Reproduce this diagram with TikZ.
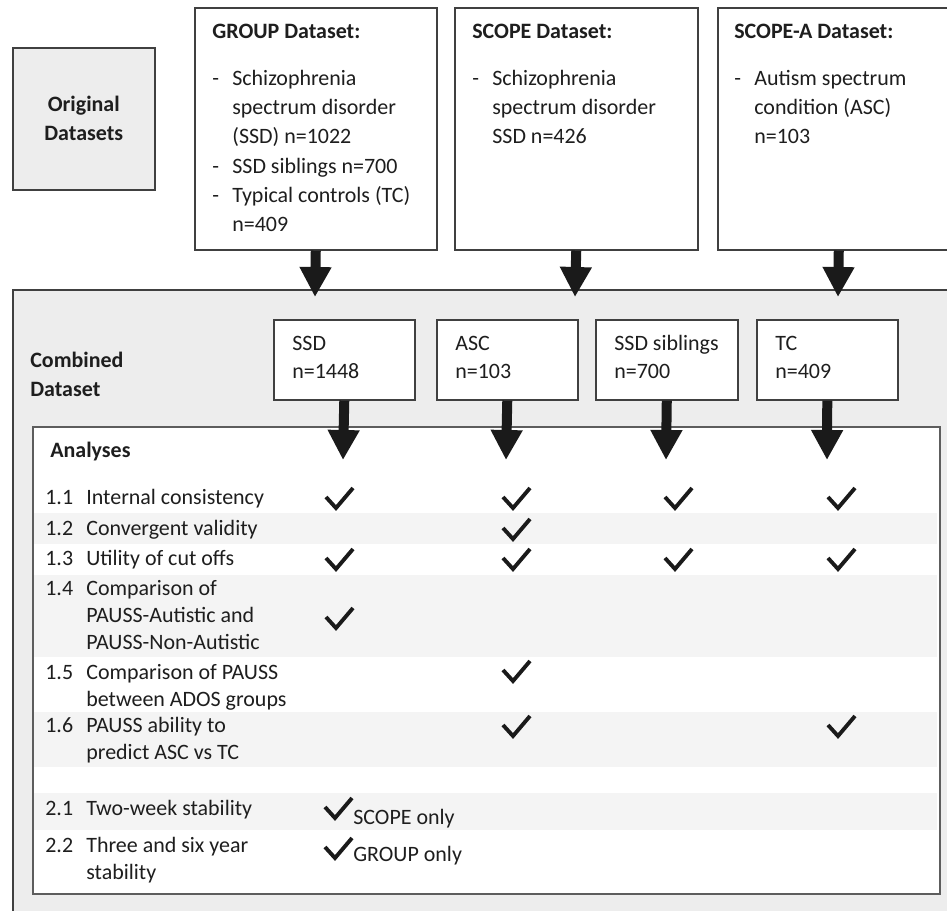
\documentclass[tikz,border=0pt]{standalone}
\usepackage{fontspec}
\setmainfont{Carlito}
\usetikzlibrary{arrows.meta}
\definecolor{flowBorder}{HTML}{404040}
\definecolor{flowPanel}{HTML}{EDEDED}
\definecolor{flowStripe}{HTML}{F4F4F4}
\definecolor{flowArrow}{HTML}{1A1A1A}
\definecolor{flowText}{HTML}{1E1E1E}
\newcommand{\lstdash}{\makebox[0.4cm][l]{-}}
\newcommand{\lstgap}{\hspace*{0.4cm}}
\newcommand{\stackl}[1]{\begin{tabular}[t]{@{}l@{}}#1\end{tabular}}

\begin{document}
\begin{tikzpicture}[
  x=0.02cm, y=-0.02cm,
  font={\fontsize{12.5}{16.7}\selectfont},
  text=flowText,
  panel/.style={
    rectangle,
    draw=flowBorder,
    fill=flowPanel,
    line width=0.9pt,
    anchor=north west,
    inner sep=0pt
  },
  dsbox/.style={
    rectangle,
    draw=flowBorder,
    fill=white,
    line width=0.9pt,
    anchor=north west,
    inner sep=0pt
  },
  lbl/.style={anchor=base west, inner sep=0pt},
  hdr/.style={lbl, font={\bfseries\fontsize{12.5}{17}\selectfont}},
  grp/.style={lbl, font={\fontsize{12.5}{16.5}\selectfont}},
  rowtxt/.style={lbl, font={\fontsize{12.5}{15.6}\selectfont}},
  blockArr/.style={-{Triangle[length=0.6cm, width=0.6cm]}, flowArrow, line width=0.2cm},
  chk/.pic={\draw[flowArrow, line width=2.2pt] (-10,-11) -- (0,0) -- (17,-20);}
]
  \useasboundingbox (0,0) rectangle (947,910);

  % original datasets
  \node[panel, minimum width=2.84cm, minimum height=2.84cm] (O) at (12,47) {};
  \node[align=center, font={\bfseries\fontsize{12.5}{16.5}\selectfont}] (Ot) at (O.center) {Original\\Datasets};

  \node[dsbox, minimum width=4.84cm, minimum height=4.84cm] (G) at (194,7) {};
  \node[hdr] (Gh) at (212,38) {GROUP Dataset:};
  \node[lbl] (Gl) at (212,85) {\stackl{\lstdash Schizophrenia\\\lstgap spectrum disorder\\\lstgap (SSD) n=1022\\\lstdash SSD siblings n=700\\\lstdash Typical controls (TC)\\\lstgap n=409}};

  \node[dsbox, minimum width=4.86cm, minimum height=4.84cm] (S) at (454,7) {};
  \node[hdr] (Sh) at (472,38) {SCOPE Dataset:};
  \node[lbl] (Sl) at (472,85) {\stackl{\lstdash Schizophrenia\\\lstgap spectrum disorder\\\lstgap SSD n=426}};

  \node[dsbox, minimum width=4.84cm, minimum height=4.84cm] (SA) at (717,7) {};
  \node[hdr] (SAh) at (734,38) {SCOPE-A Dataset:};
  \node[lbl] (SAl) at (734,85) {\stackl{\lstdash Autism spectrum\\\lstgap condition (ASC)\\\lstgap n=103}};

  % combined dataset
  \node[panel, minimum width=19.6cm, minimum height=13.2cm] (C) at (12,289) {};
  \node[hdr] (Ct) at (30,367) {\stackl{Combined\\Dataset}};

  \node[dsbox, minimum width=2.82cm, minimum height=1.6cm] (C1) at (273,319) {};
  \node[grp] (C1t) at (292,350) {\stackl{SSD\\n=1448}};
  \node[dsbox, minimum width=2.82cm, minimum height=1.6cm] (C2) at (436,319) {};
  \node[grp] (C2t) at (455,350) {\stackl{ASC\\n=103}};
  \node[dsbox, minimum width=2.84cm, minimum height=1.6cm] (C3) at (595,319) {};
  \node[grp] (C3t) at (614,350) {\stackl{SSD siblings\\n=700}};
  \node[dsbox, minimum width=2.82cm, minimum height=1.6cm] (C4) at (756,319) {};
  \node[grp] (C4t) at (775,350) {\stackl{TC\\n=409}};

  \coordinate (Gin) at (315,297);
  \coordinate (Sin) at (575,297);
  \coordinate (SAin) at (838,297);
  \draw[blockArr] (G.south) -- (Gin);
  \draw[blockArr] (S.south) -- (Sin);
  \draw[blockArr] (SA.south) -- (SAin);

  % analyses
  \node[dsbox, draw=flowBorder!85, line width=1.3pt, minimum width=18.14cm, minimum height=9.34cm] (A) at (32,426) {};
  \fill[flowStripe] (34,513) rectangle (937,544);
  \fill[flowStripe] (34,575) rectangle (937,657);
  \fill[flowStripe] (34,712) rectangle (937,767);
  \fill[flowStripe] (34,793) rectangle (937,830);
  \node[hdr] (At) at (50,457) {Analyses};

  \coordinate (A1) at (343,460);
  \coordinate (A2) at (506,460);
  \coordinate (A3) at (666,460);
  \coordinate (A4) at (827,460);
  \draw[blockArr] (C1.south) -- (A1);
  \draw[blockArr] (C2.south) -- (A2);
  \draw[blockArr] (C3.south) -- (A3);
  \draw[blockArr] (C4.south) -- (A4);

  \node[rowtxt] (n11) at (45,504) {1.1};
  \node[rowtxt] (r11) at (86,504) {Internal consistency};
  \node[rowtxt] (n12) at (45,535) {1.2};
  \node[rowtxt] (r12) at (86,535) {Convergent validity};
  \node[rowtxt] (n13) at (45,565) {1.3};
  \node[rowtxt] (r13) at (86,565) {Utility of cut offs};
  \node[rowtxt] (n14) at (45,595) {1.4};
  \node[rowtxt] (r14) at (86,595) {\stackl{Comparison of\\PAUSS-Autistic and\\PAUSS-Non-Autistic}};
  \node[rowtxt] (n15) at (45,679) {1.5};
  \node[rowtxt] (r15) at (86,679) {\stackl{Comparison of PAUSS\\between ADOS groups}};
  \node[rowtxt] (n16) at (45,732) {1.6};
  \node[rowtxt] (r16) at (86,732) {\stackl{PAUSS ability to\\predict ASC vs TC}};
  \node[rowtxt] (n21) at (45,815) {2.1};
  \node[rowtxt] (r21) at (86,815) {Two-week stability};
  \node[rowtxt] (n22) at (45,852) {2.2};
  \node[rowtxt] (r22) at (86,852) {\stackl{Three and six year\\stability}};

  % ticks
  \pic at (336,508) {chk};
  \pic at (513,508) {chk};
  \pic at (675,508) {chk};
  \pic at (838,508) {chk};
  \pic at (513,539) {chk};
  \pic at (336,569) {chk};
  \pic at (513,569) {chk};
  \pic at (675,569) {chk};
  \pic at (838,569) {chk};
  \pic at (336,628) {chk};
  \pic at (513,681) {chk};
  \pic at (513,736) {chk};
  \pic at (838,736) {chk};
  \pic at (335,818) {chk};
  \pic at (335,858) {chk};
  \node[rowtxt] (s21) at (353,824) {SCOPE only};
  \node[rowtxt] (s22) at (353,861) {GROUP only};

\end{tikzpicture}
\end{document}
